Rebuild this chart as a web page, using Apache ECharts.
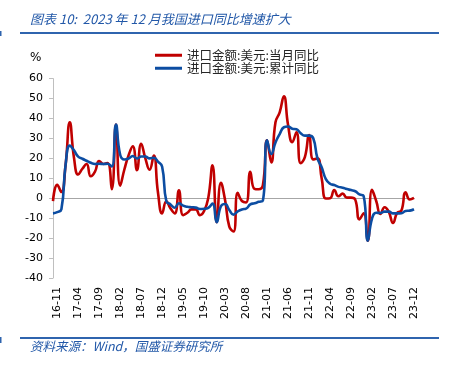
<!DOCTYPE html>
<html>
<head>
<meta charset="utf-8">
<script src="https://cdn.jsdelivr.net/npm/echarts/dist/echarts.min.js"></script>
<style>
  html, body { margin: 0; padding: 0; background: #fff; }
  #main { width: 450px; height: 367px; }
</style>
</head>
<body>
<div id="main"></div>
<script>
// 月份 2016-10 ~ 2023-12
var months = [
  '16-10', '16-11', '16-12',
  '17-01', '17-02', '17-03', '17-04', '17-05', '17-06', '17-07', '17-08', '17-09', '17-10', '17-11', '17-12',
  '18-01', '18-02', '18-03', '18-04', '18-05', '18-06', '18-07', '18-08', '18-09', '18-10', '18-11', '18-12',
  '19-01', '19-02', '19-03', '19-04', '19-05', '19-06', '19-07', '19-08', '19-09', '19-10', '19-11', '19-12',
  '20-01', '20-02', '20-03', '20-04', '20-05', '20-06', '20-07', '20-08', '20-09', '20-10', '20-11', '20-12',
  '21-01', '21-02', '21-03', '21-04', '21-05', '21-06', '21-07', '21-08', '21-09', '21-10', '21-11', '21-12',
  '22-01', '22-02', '22-03', '22-04', '22-05', '22-06', '22-07', '22-08', '22-09', '22-10', '22-11', '22-12',
  '23-01', '23-02', '23-03', '23-04', '23-05', '23-06', '23-07', '23-08', '23-09', '23-10', '23-11', '23-12'
];

// 进口金额:美元:当月同比 (%)
var monthlyYoy = [
  -1.4, 6.7, 3.1,
  16.7, 38.1, 20.3, 11.9, 14.8, 17.2, 11.0, 13.3, 18.7, 17.2, 17.7, 4.5,
  36.9, 6.3, 14.4, 21.5, 26.0, 14.1, 27.3, 20.0, 14.3, 21.4, 3.0, -7.6,
  -1.5, -5.2, -7.6, 4.0, -8.5, -7.3, -5.6, -5.6, -8.5, -6.4, 0.3, 16.5,
  -12.0, 7.7, -1.0, -14.2, -16.7, 2.7, -1.4, -2.1, 13.2, 4.7, 4.5, 6.5,
  29.0, 18.0, 38.1, 43.1, 51.1, 36.7, 28.1, 33.1, 17.6, 20.6, 31.7, 19.5,
  20.0, 10.0, -0.1, 0.0, 4.1, 1.0, 2.3, 0.3, 0.3, -0.7, -10.6, -7.5,
  -21.3, 4.2, -1.4, -7.9, -4.5, -6.8, -12.4, -7.3, -6.2, 3.0, -0.6, 0.2
];

// 进口金额:美元:累计同比 (%)
var cumulativeYoy = [
  -7.6, -7.0, -5.5,
  16.7, 26.4, 24.0, 20.9, 19.8, 18.8, 17.8, 17.2, 17.3, 17.2, 17.3, 15.9,
  36.9, 21.8, 19.4, 19.9, 21.2, 19.9, 20.9, 20.9, 20.0, 20.3, 18.4, 15.8,
  -1.5, -3.1, -4.8, -2.5, -3.7, -4.3, -4.5, -4.7, -5.4, -5.3, -4.8, -2.7,
  -12.0, -4.0, -2.9, -5.9, -8.2, -6.6, -5.6, -5.2, -3.1, -2.5, -1.8, -1.1,
  29.0, 22.2, 28.0, 32.2, 35.6, 36.0, 34.9, 34.6, 32.6, 31.4, 31.4, 30.1,
  20.0, 15.5, 9.6, 7.3, 6.6, 5.7, 5.3, 4.6, 4.1, 3.5, 1.9, 1.1,
  -21.3, -10.2, -7.3, -7.4, -6.7, -6.7, -7.6, -7.6, -7.5, -6.4, -6.2, -5.5
];

var seriesNames = ['进口金额:美元:当月同比', '进口金额:美元:累计同比'];

var myChart = echarts.init(document.getElementById('main'));

var legendText = { fontSize: 12.5, color: '#262626', fontFamily: 'Noto Sans CJK SC' };

var option = {
  backgroundColor: '#fff',
  animation: false,
  color: ['#C00000', '#0C4DA2'],
  graphic: [
    {
      type: 'text',
      left: 30,
      top: 13,
      style: {
        text: '图表 10:  2023 年 12 月我国进口同比增速扩大',
        fill: '#2258A8',
        font: 'italic 13px "Noto Sans CJK SC", sans-serif'
      }
    },
    { type: 'rect', shape: { x: 20, y: 32, width: 419, height: 2 }, style: { fill: '#2F64AE' } },
    { type: 'rect', shape: { x: 0, y: 31, width: 1.5, height: 5 }, style: { fill: '#2F64AE' } },
    {
      type: 'text',
      left: 30,
      top: 52,
      style: { text: '%', fill: '#000', font: '12px "DejaVu Sans", sans-serif' }
    },
    { type: 'rect', shape: { x: 20, y: 337, width: 419, height: 2 }, style: { fill: '#2F64AE' } },
    { type: 'rect', shape: { x: 0, y: 337, width: 1.5, height: 6 }, style: { fill: '#2F64AE' } },
    {
      type: 'text',
      left: 30,
      top: 340,
      style: {
        text: '资料来源：Wind，国盛证券研究所',
        fill: '#2258A8',
        font: 'italic 12.5px "Noto Sans CJK SC", sans-serif'
      }
    }
  ],
  legend: [
    {
      data: [seriesNames[0]],
      left: 155,
      top: 49,
      padding: 0,
      itemGap: 0,
      icon: 'rect',
      itemWidth: 27,
      itemHeight: 3,
      textStyle: legendText
    },
    {
      data: [seriesNames[1]],
      left: 155,
      top: 62,
      padding: 0,
      itemGap: 0,
      icon: 'rect',
      itemWidth: 27,
      itemHeight: 3,
      textStyle: legendText
    }
  ],
  grid: {
    left: 53,
    right: 36,
    top: 78.6,
    bottom: 89,
    containLabel: false
  },
  xAxis: [
    {
      type: 'category',
      boundaryGap: false,
      data: months,
      axisLine: { show: false, onZero: false },
      axisTick: { show: false },
      axisLabel: {
        rotate: 90,
        margin: 9,
        interval: function (index) {
          return (index - 1) % 5 === 0;
        },
        fontSize: 11,
        fontFamily: 'DejaVu Sans',
        color: '#000'
      }
    },
    {
      type: 'category',
      boundaryGap: false,
      data: months,
      position: 'bottom',
      axisLine: { show: true, onZero: true, lineStyle: { color: '#A6A6A6', width: 1 } },
      axisTick: { show: false },
      axisLabel: { show: false }
    }
  ],
  yAxis: {
    type: 'value',
    min: -40,
    max: 60,
    interval: 10,
    axisLine: { show: true, lineStyle: { color: '#BFBFBF', width: 1 } },
    axisTick: { show: true, length: 4, lineStyle: { color: '#BFBFBF' } },
    splitLine: { show: false },
    axisLabel: {
      margin: 10,
      fontSize: 11,
      fontFamily: 'DejaVu Sans',
      color: '#000'
    }
  },
  series: [
    {
      name: seriesNames[0],
      type: 'line',
      smooth: 0.5,
      showSymbol: false,
      lineStyle: { color: '#C00000', width: 2.6 },
      itemStyle: { color: '#C00000' },
      data: monthlyYoy
    },
    {
      name: seriesNames[1],
      type: 'line',
      smooth: 0.5,
      showSymbol: false,
      lineStyle: { color: '#0C4DA2', width: 2.6 },
      itemStyle: { color: '#0C4DA2' },
      data: cumulativeYoy
    }
  ]
};

myChart.setOption(option);
</script>
</body>
</html>
